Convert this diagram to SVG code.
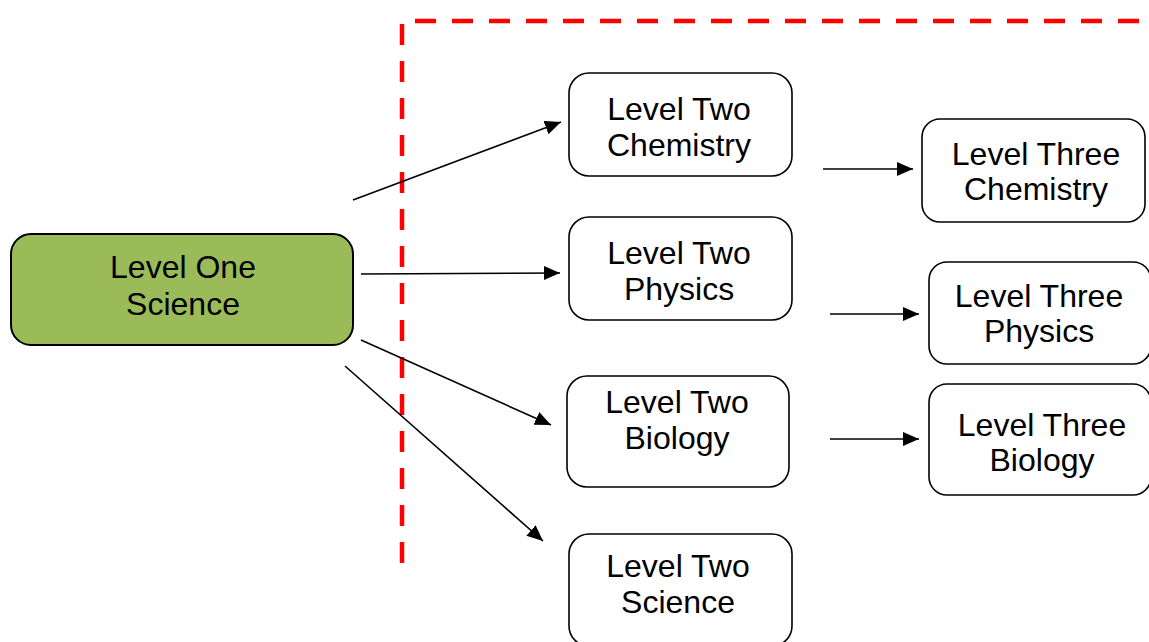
<svg xmlns="http://www.w3.org/2000/svg" width="1149" height="642" viewBox="0 0 1149 642">
<defs>
<marker id="ah" markerUnits="userSpaceOnUse" markerWidth="17" markerHeight="15" refX="16" refY="7" orient="auto">
<path d="M0,0 L16,7 L0,14 z" fill="#000"/>
</marker>
<style>
.box{fill:#fff;stroke:#000;stroke-width:1.6}
.green{fill:#9bbb59;stroke:#000;stroke-width:2}
text{font-family:"Liberation Sans",Arial,sans-serif;font-size:32px;fill:#000;text-anchor:middle}
.conn line{stroke:#000;stroke-width:1.6;marker-end:url(#ah)}
.dash{fill:none;stroke:#ff0000;stroke-width:4.5;stroke-dasharray:21 16}
</style>
</defs>
<rect width="1149" height="642" fill="#fff"/>
<path class="dash" d="M402,563 L402,21 L1149,21"/>
<g id="n-level-one-science">
<rect class="green" x="11" y="234" width="342" height="111" rx="20"/>
<text x="183" y="278">Level One</text>
<text x="183" y="315">Science</text>
</g>
<g id="n-level-two-chemistry">
<rect class="box" x="569" y="73" width="223" height="103" rx="20"/>
<text x="679" y="120">Level Two</text>
<text x="679" y="156">Chemistry</text>
</g>
<g id="n-level-two-physics">
<rect class="box" x="569" y="217" width="223" height="103" rx="20"/>
<text x="679" y="264">Level Two</text>
<text x="679" y="300">Physics</text>
</g>
<g id="n-level-two-biology">
<rect class="box" x="567" y="376" width="222" height="111" rx="20"/>
<text x="677" y="413">Level Two</text>
<text x="677" y="449">Biology</text>
</g>
<g id="n-level-two-science">
<rect class="box" x="569" y="534" width="223" height="112" rx="20"/>
<text x="678" y="577">Level Two</text>
<text x="678" y="613">Science</text>
</g>
<g id="n-level-three-chemistry">
<rect class="box" x="922" y="119" width="223" height="103" rx="18"/>
<text x="1036" y="165">Level Three</text>
<text x="1036" y="200">Chemistry</text>
</g>
<g id="n-level-three-physics">
<rect class="box" x="929" y="262" width="222" height="102" rx="18"/>
<text x="1039" y="307">Level Three</text>
<text x="1039" y="342">Physics</text>
</g>
<g id="n-level-three-biology">
<rect class="box" x="929" y="384" width="222" height="111" rx="18"/>
<text x="1042" y="436">Level Three</text>
<text x="1042" y="471">Biology</text>
</g>
<g id="connectors" class="conn">
<line x1="353" y1="200" x2="561" y2="122"/>
<line x1="361" y1="274" x2="560" y2="273"/>
<line x1="361" y1="340" x2="551" y2="425"/>
<line x1="345" y1="366" x2="543" y2="541"/>
<line x1="823" y1="169" x2="913" y2="169"/>
<line x1="830" y1="314" x2="919" y2="314"/>
<line x1="830" y1="439" x2="919" y2="439"/>
</g>
</svg>
